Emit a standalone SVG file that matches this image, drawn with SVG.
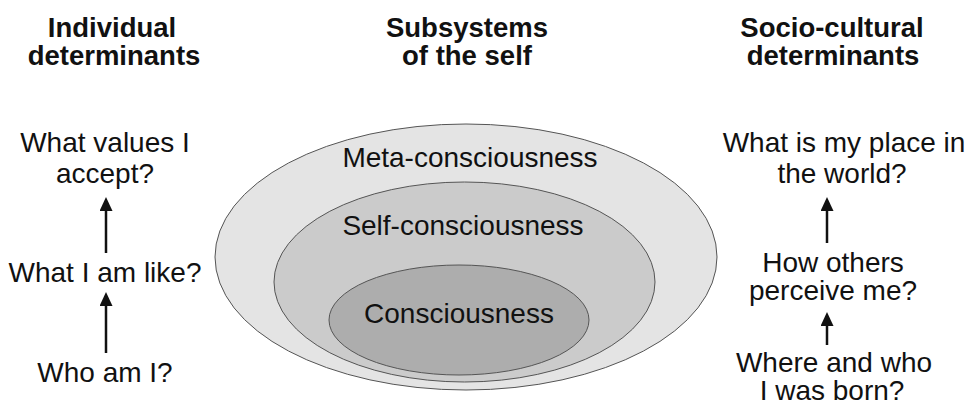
<svg xmlns="http://www.w3.org/2000/svg" width="969" height="406" viewBox="0 0 969 406">
  <style>
    .head { font-family: "Liberation Sans", Arial, sans-serif; font-size: 27.5px; font-weight: bold; fill: #111; text-anchor: middle; }
    .q { font-family: "Liberation Sans", Arial, sans-serif; font-size: 28px; fill: #111; text-anchor: middle; }
    .ring { stroke: #555; stroke-width: 1; }
    .conn { stroke: #111; stroke-width: 2.5; fill: none; marker-end: url(#head); }
  </style>
  <defs>
    <marker id="head" markerUnits="userSpaceOnUse" markerWidth="14" markerHeight="13" viewBox="0 0 14 13" refX="4" refY="6.5" orient="auto">
      <path d="M0,0 L14,6.5 L0,13 Z" fill="#111"/>
    </marker>
  </defs>
  <rect width="969" height="406" fill="#ffffff"/>

  <!-- column headings -->
  <g id="heading-individual">
    <text class="head" x="112" y="37">Individual</text>
    <text class="head" x="114" y="65">determinants</text>
  </g>
  <g id="heading-subsystems">
    <text class="head" x="467" y="37">Subsystems</text>
    <text class="head" x="467" y="65">of the self</text>
  </g>
  <g id="heading-sociocultural">
    <text class="head" x="832" y="37">Socio-cultural</text>
    <text class="head" x="833" y="65">determinants</text>
  </g>

  <!-- nested subsystems of the self -->
  <g id="meta-consciousness">
    <ellipse class="ring" cx="466" cy="257" rx="251" ry="133" fill="#e4e4e4"/>
    <text class="q" x="470" y="167">Meta-consciousness</text>
  </g>
  <g id="self-consciousness">
    <ellipse class="ring" cx="464.5" cy="282" rx="190.5" ry="100" fill="#cbcbcb"/>
    <text class="q" x="463" y="235">Self-consciousness</text>
  </g>
  <g id="consciousness">
    <ellipse class="ring" cx="459" cy="320" rx="130" ry="55" fill="#adadad"/>
    <text class="q" x="459" y="323">Consciousness</text>
  </g>

  <!-- individual determinants -->
  <g id="values">
    <text class="q" x="105" y="152">What values I</text>
    <text class="q" x="105" y="183">accept?</text>
  </g>
  <g id="like">
    <text class="q" x="105" y="282">What I am like?</text>
  </g>
  <g id="who">
    <text class="q" x="105" y="382">Who am I?</text>
  </g>

  <!-- socio-cultural determinants -->
  <g id="place">
    <text class="q" x="844" y="152">What is my place in</text>
    <text class="q" x="842" y="183">the world?</text>
  </g>
  <g id="others">
    <text class="q" x="833" y="272">How others</text>
    <text class="q" x="833" y="300">perceive me?</text>
  </g>
  <g id="born">
    <text class="q" x="834" y="372">Where and who</text>
    <text class="q" x="832" y="400">I was born?</text>
  </g>

  <!-- connectors -->
  <g id="connectors">
    <path class="conn" d="M106,253 L106,207"/>
    <path class="conn" d="M106,353 L106,302"/>
    <path class="conn" d="M827,243 L827,207"/>
    <path class="conn" d="M827,345 L827,322"/>
  </g>
</svg>
